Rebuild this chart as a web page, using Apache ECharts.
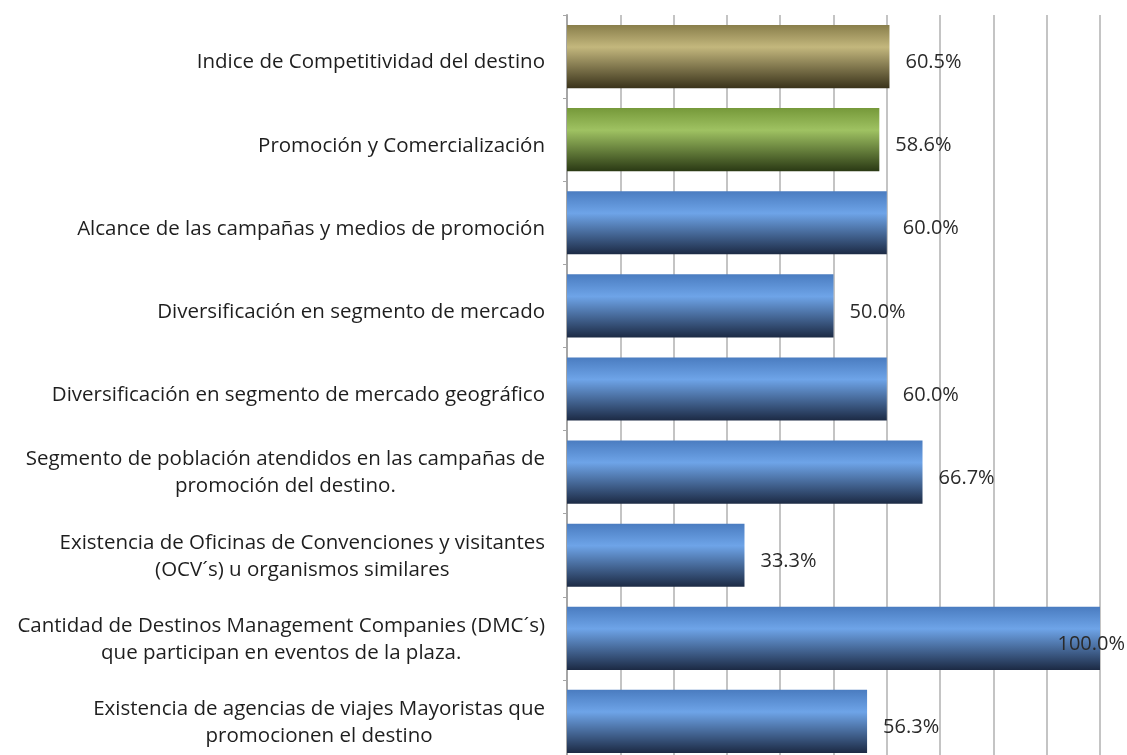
<!DOCTYPE html>
<html>
<head>
<meta charset="utf-8">
<script src="https://cdn.jsdelivr.net/npm/echarts@6/dist/echarts.min.js"></script>
<style>
  html, body { margin: 0; padding: 0; background: #fff; }
  #main { width: 1127px; height: 755px; }
</style>
</head>
<body>
<div id="main"></div>
<script>
  // datos
  var categories = [
    'Indice de Competitividad del destino',
    'Promoción y Comercialización',
    'Alcance de las campañas y medios de promoción',
    'Diversificación en segmento de mercado',
    'Diversificación en segmento de mercado geográfico',
    'Segmento de población atendidos en las campañas de\npromoción del destino.',
    'Existencia de Oficinas de Convenciones y visitantes\n(OCV´s) u organismos similares',
    'Cantidad de Destinos Management Companies (DMC´s)\nque participan en eventos de la plaza.',
    'Existencia de agencias de viajes Mayoristas que\npromocionen el destino'
  ];
  var values = [60.5, 58.6, 60.0, 50.0, 60.0, 66.7, 33.3, 100.0, 56.3];
  // 0 = indice, 1 = eje, 2 = indicador
  var kinds = [0, 1, 2, 2, 2, 2, 2, 2, 2];

  var gradients = [
    ['#897e4b', '#c3b77d', '#3a331b'],
    ['#76993a', '#9fc262', '#2a3914'],
    ['#4a7cc0', '#6ea4e8', '#1c2a44']
  ];

  function fill(k) {
    var g = gradients[k];
    return new echarts.graphic.LinearGradient(0, 0, 0, 1, [
      {offset: 0, color: g[0]},
      {offset: 0.35, color: g[1]},
      {offset: 1, color: g[2]}
    ]);
  }

  var seriesData = values.map(function (v, i) {
    var item = {value: v, itemStyle: {color: fill(kinds[i])}};
    if (v >= 100) {
      item.label = {position: 'insideRight', distance: 0, offset: [25, 6]};
    }
    return item;
  });

  var myChart = echarts.init(document.getElementById('main'));
  myChart.setOption({
    animation: false,
    textStyle: {fontFamily: 'Open Sans'},
    grid: {left: 567, right: 27, top: 15, height: 748, outerBoundsMode: 'none', containLabel: false},
    xAxis: {
      type: 'value',
      min: 0,
      max: 100,
      interval: 10,
      axisLabel: {show: false},
      axisLine: {show: false},
      axisTick: {show: false},
      splitLine: {show: true, lineStyle: {color: '#c4c4c4', width: 2}}
    },
    yAxis: {
      type: 'category',
      inverse: true,
      data: categories,
      axisLine: {show: true, lineStyle: {color: '#a6a6a6', width: 2}},
      axisTick: {show: true, length: 4, lineStyle: {color: '#a6a6a6'}},
      axisLabel: {
        margin: 22,
        color: '#1e1e1e',
        fontSize: 20.5,
        formatter: function (val) {
          var lines = val.split('\n');
          var key = lines.length > 1 ? 'c' : 's';
          return lines.map(function (l) { return '{' + key + '|' + l + '}'; }).join('\n');
        },
        rich: {
          c: {align: 'center', fontSize: 20.5, lineHeight: 27, padding: [2, 0, 0, 0], color: '#1e1e1e', fontFamily: 'Open Sans'},
          s: {align: 'center', fontSize: 20.5, lineHeight: 26, padding: [12, 0, 0, 0], color: '#1e1e1e', fontFamily: 'Open Sans'}
        }
      }
    },
    series: [{
      type: 'bar',
      barCategoryGap: '24%',
      data: seriesData,
      label: {
        show: true,
        position: 'right',
        distance: 16,
        offset: [0, 6],
        color: '#2a2a2a',
        fontSize: 20,
        fontFamily: 'Open Sans',
        formatter: function (p) { return p.value.toFixed(1) + '%'; }
      }
    }]
  });
</script>
</body>
</html>
